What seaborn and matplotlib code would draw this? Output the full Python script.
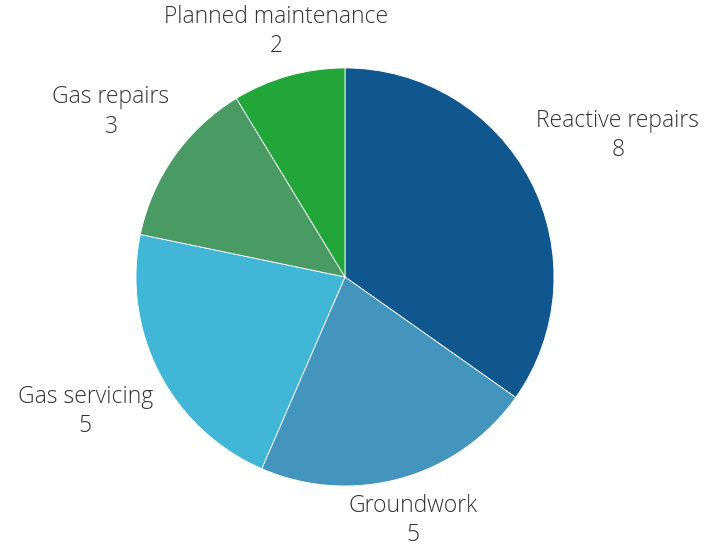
"""
Jobs by work type - pie chart
"""
import numpy as np
import seaborn as sns
from matplotlib import pyplot as plt

sns.set_theme(style="white")
plt.rcParams['font.family'] = ['Open Sans', 'DejaVu Sans']

# data
categories = ["Reactive repairs", "Groundwork", "Gas servicing", "Gas repairs", "Planned maintenance"]
values = [8, 5, 5, 3, 2]
colors = ["#10568f", "#4395be", "#41b6d6", "#4a9a63", "#22a63a"]
# distance of each label from the centre (in radii)
label_dist = [1.47, 1.21, 1.40, 1.37, 1.22]

fig = plt.figure(figsize=(7.13, 5.5), dpi=100)
ax = fig.add_axes([0.1907, 0.1164, 0.5863, 0.76])

wedges, _ = ax.pie(values, colors=colors, startangle=90, counterclock=False,
                   radius=1, wedgeprops=dict(edgecolor="white", linewidth=0.6))

# labels: name + value, centred on each wedge's mid angle
for w, name, v, d in zip(wedges, categories, values, label_dist):
    ang = np.deg2rad((w.theta1 + w.theta2) / 2)
    ax.text(d * np.cos(ang), d * np.sin(ang), f"{name}\n{v}",
            ha="center", va="center", multialignment="center",
            fontsize=16.5, fontweight="light", color="#333333", linespacing=1.3)

ax.set_xlim(-1, 1)
ax.set_ylim(-1, 1)
ax.set_aspect("equal")
ax.axis("off")

plt.savefig("out.png", dpi=100)
